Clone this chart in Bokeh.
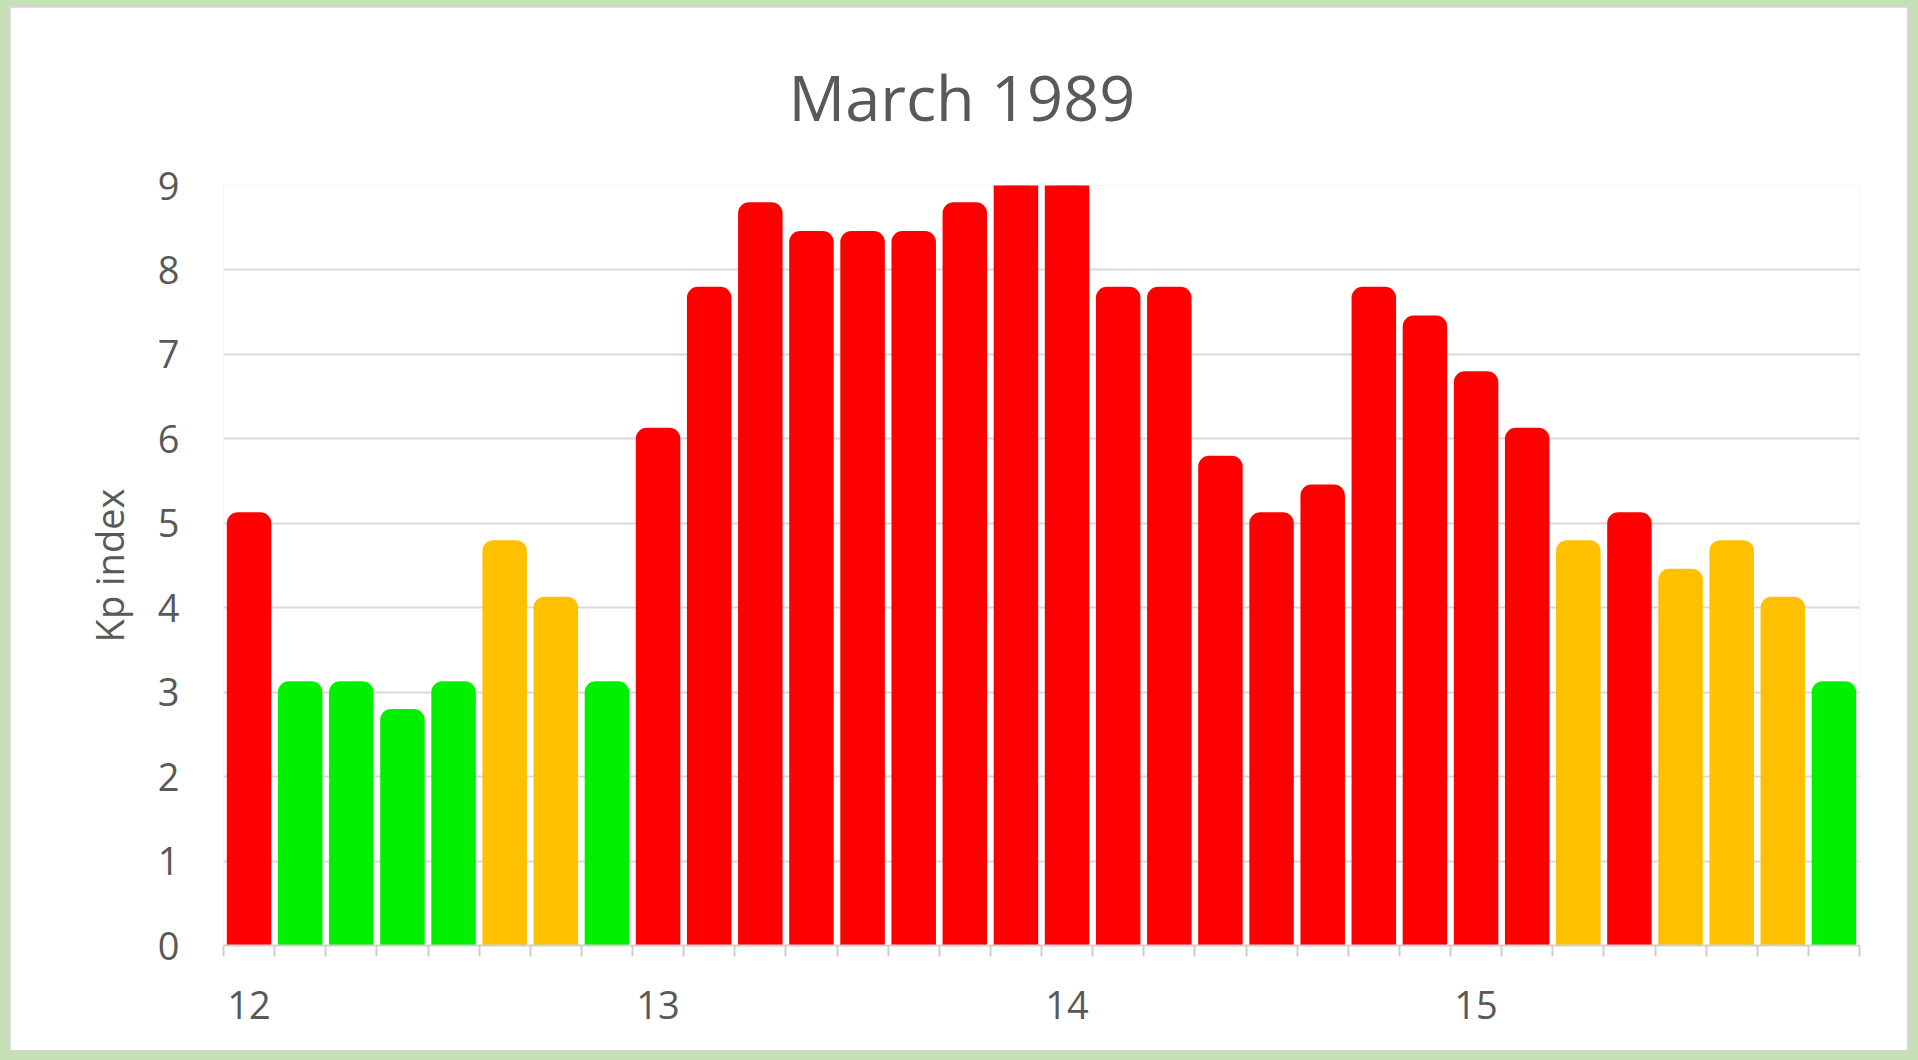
from bokeh.plotting import figure
from bokeh.models import Range1d, FixedTicker, Title, ColumnDataSource
from bokeh.embed import file_html
from bokeh.resources import INLINE

# Data: 3-hourly Kp index, 12-15 March 1989 (values in thirds)
days = ["12", "13", "14", "15"]
bars_per_day = 8
kp = [5.0, 3.0, 3.0, 2.67, 3.0, 4.67, 4.0, 3.0,
      6.0, 7.67, 8.67, 8.33, 8.33, 8.33, 8.67, 9.0,
      9.0, 7.67, 7.67, 5.67, 5.0, 5.33, 7.67, 7.33,
      6.67, 6.0, 4.67, 5.0, 4.33, 4.67, 4.0, 3.0]
y_ticks = [0, 1, 2, 3, 4, 5, 6, 7, 8, 9]
title_text = "March 1989"
y_label = "Kp index"

level_colors = {"storm": "#FF0000", "active": "#FFC000", "quiet": "#00F000"}


def level(v):
    if v >= 5:
        return "storm"
    if v >= 4:
        return "active"
    return "quiet"


n = len(kp)
xs = [i + 0.5 for i in range(n)]
colors = [level_colors[level(v)] for v in kp]
src = ColumnDataSource(dict(x=xs, top=kp, color=colors))

TXT = "#595959"
FONT = "Open Sans"

p = figure(width=1901, height=1047, output_backend="svg", toolbar_location=None,
           x_range=Range1d(0, n), y_range=Range1d(0, 9),
           min_border_left=213, min_border_right=52, min_border_top=178, min_border_bottom=109,
           background_fill_color="white", border_fill_color="white",
           outline_line_color=None, title=None)
p.styles = {"border": "2px solid #d4d4d4"}

p.vbar(x="x", top="top", bottom=0, width=0.44, source=src,
       fill_color="color", line_color="color", line_width=22, line_join="round")

# axes
p.yaxis.ticker = FixedTicker(ticks=y_ticks)
p.yaxis.axis_line_color = None
p.yaxis.major_tick_line_color = None
p.yaxis.minor_tick_line_color = None
p.yaxis.major_label_text_font = FONT
p.yaxis.major_label_text_font_size = "38px"
p.yaxis.major_label_text_color = TXT
p.yaxis.major_label_standoff = 38
p.yaxis.axis_label = y_label
p.yaxis.axis_label_text_font = FONT
p.yaxis.axis_label_text_font_size = "38px"
p.yaxis.axis_label_text_font_style = "normal"
p.yaxis.axis_label_text_color = TXT
p.yaxis.axis_label_standoff = 20

label_pos = [d * bars_per_day + 0.5 for d in range(len(days))]
p.xaxis.ticker = FixedTicker(ticks=label_pos, minor_ticks=list(range(n + 1)))
p.xaxis.major_label_overrides = {pos: d for pos, d in zip(label_pos, days)}
p.xaxis.major_tick_line_color = None
p.xaxis.minor_tick_line_color = "#d0d0d0"
p.xaxis.minor_tick_line_width = 2
p.xaxis.minor_tick_in = 0
p.xaxis.minor_tick_out = 11
p.xaxis.axis_line_color = "#d0d0d0"
p.xaxis.axis_line_width = 2
p.xaxis.major_label_text_font = FONT
p.xaxis.major_label_text_font_size = "38px"
p.xaxis.major_label_text_color = TXT
p.xaxis.major_label_standoff = 34

p.xgrid.grid_line_color = None
p.ygrid.ticker = FixedTicker(ticks=y_ticks)
p.ygrid.grid_line_color = "#d9d9d9"
p.ygrid.grid_line_width = 2

p.add_layout(Title(text=title_text, align="left", offset=565, standoff=89,
                   vertical_align="top",
                   text_font=FONT, text_font_size="63px", text_font_style="normal",
                   text_color=TXT), "above")

html = file_html(p, INLINE)
html = html.replace("</head>",
                    "<style>html, body { background: #C5E0B4 !important; }"
                    " body { padding: 5px 0 0 8px !important; }</style></head>", 1)
open("out.html", "w").write(html)
